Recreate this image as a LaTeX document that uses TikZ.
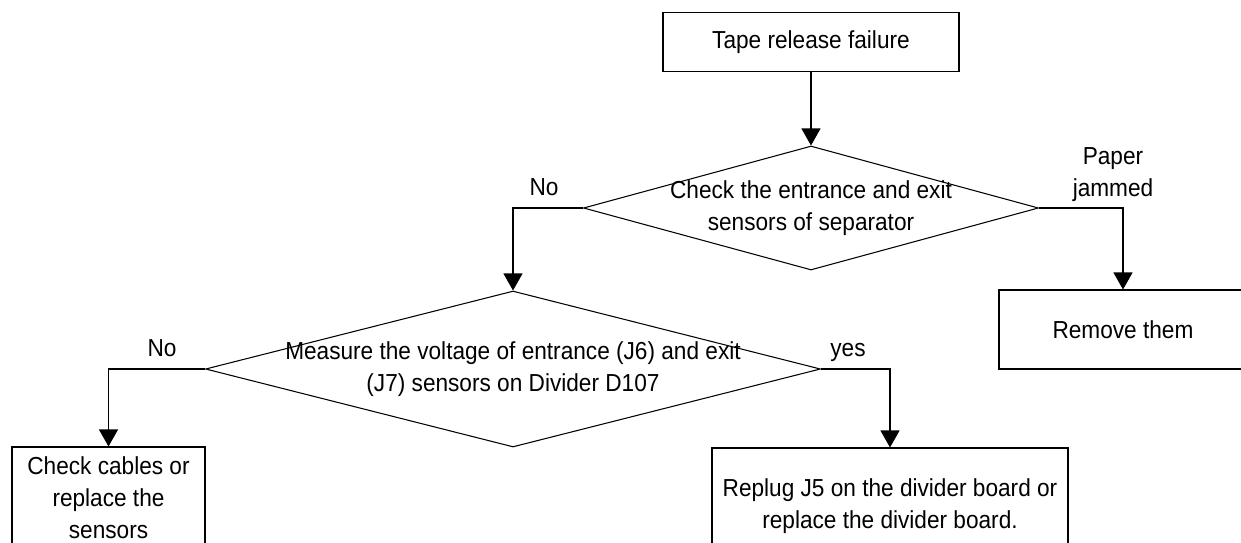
\documentclass[tikz,border=0pt]{standalone}
\usepackage{fontspec}
\setmainfont{Liberation Sans}[FakeStretch=0.92]
\usepackage{xcolor}
\usepackage{tikz}
\usetikzlibrary{arrows.meta,shapes.geometric}
\definecolor{ink}{HTML}{000000}
\newcommand{\fz}{\fontsize{14}{18.2}\selectfont}
\tikzset{
  box/.style={draw=ink, line width=0.6pt, rectangle, inner sep=0pt, align=center, font=\fz},
  choice/.style={draw=ink, line width=0.6pt, diamond, inner sep=0pt},
  txt/.style={text=ink, align=center, font=\fz},
  flow/.style={draw=ink, line width=0.6pt, -{Triangle[length=0.34cm,width=0.38cm]}},
  lbl/.style={text=ink, align=center, font=\fz}
}

\begin{document}
\begin{tikzpicture}
  \useasboundingbox (0,0) rectangle (24.82,10.84);
  \clip (0,0) rectangle (24.82,10.84);

  \node[box, minimum width=5.92cm, minimum height=1.18cm] (start) at (16.22,10.00) {Tape release failure};
  \node[choice, minimum width=9.10cm, minimum height=2.48cm,
    label={[txt]center:{Check the entrance and exit\\sensors of separator}}] (chk) at (16.22,6.68) {};
  \node[choice, minimum width=12.30cm, minimum height=3.12cm,
    label={[txt]center:{Measure the voltage of entrance (J6) and exit\\(J7) sensors on Divider D107}}] (meas) at (10.26,3.46) {};
  \node[box, minimum width=4.96cm, minimum height=1.58cm] (remove) at (22.46,4.25) {Remove them};
  \node[box, minimum width=3.86cm, minimum height=2.04cm] (cable) at (2.17,0.88) {Check cables or\\replace the\\sensors};
  \node[box, minimum width=7.12cm, minimum height=2.32cm] (replug) at (17.80,0.72) {Replug J5 on the divider board or\\replace the divider board.};

  \draw[flow] (start.south) -- (chk.north);
  \draw[flow] (chk.west) -| (meas.north);
  \draw[flow] (chk.east) -| (remove.north);
  \draw[flow] (meas.west) -| (cable.north);
  \draw[flow] (meas.east) -| (replug.north);

  \node[lbl] (no1) at (10.88,7.10) {No};
  \node[lbl] (jam) at (22.26,7.34) {Paper\\jammed};
  \node[lbl] (no2) at (3.24,3.88) {No};
  \node[lbl] (yes) at (16.96,3.80) {yes};
\end{tikzpicture}
\end{document}
